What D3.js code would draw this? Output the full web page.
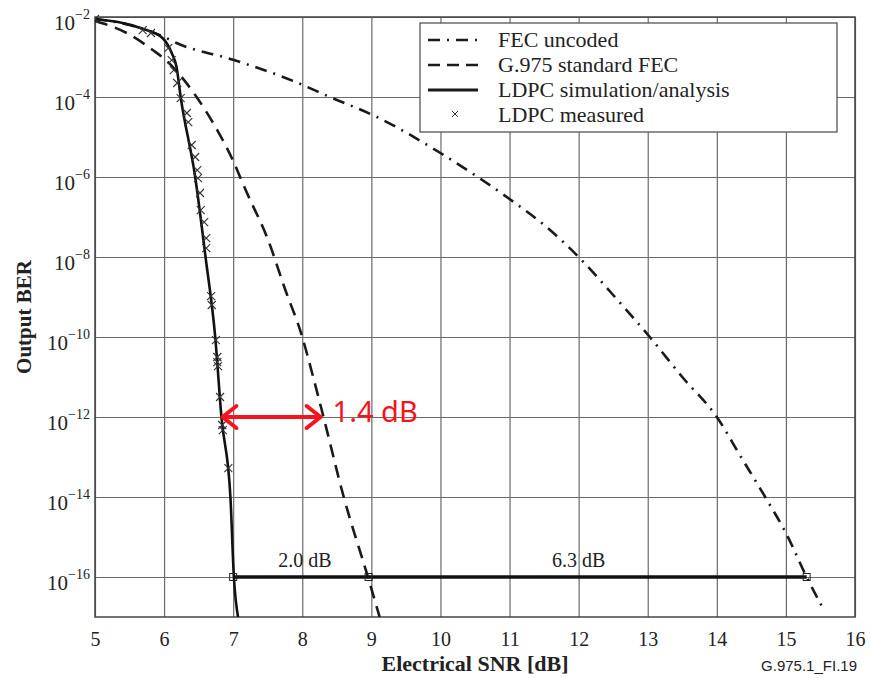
<!DOCTYPE html>
<html>
<head>
<meta charset="utf-8">
<script src="https://cdn.jsdelivr.net/npm/d3@7"></script>
<style>
  body { margin: 0; background: #fff; }
  svg { display: block; }
</style>
</head>
<body>
<div id="chart"></div>
<script>
// Data: SNR in dB, BER stored as log10 values
const uncodedSnr = [5.0, 5.5, 6.0, 6.18, 7.0, 7.87, 8.4, 9.08, 10.0, 10.54, 11.0, 11.5, 12.0, 12.5, 13.03, 13.5, 14.0, 14.35, 14.7, 15.0, 15.3, 15.54];
const uncodedLogBer = [-2.05, -2.2, -2.5, -2.65, -3.07, -3.6, -4.0, -4.5, -5.4, -6.0, -6.55, -7.2, -8.0, -8.95, -10.0, -11.0, -12.0, -13.0, -14.0, -14.9, -16.0, -16.8];

const g975Snr = [5.0, 5.46, 5.84, 6.04, 6.23, 6.47, 6.71, 7.0, 7.1, 7.2, 7.5, 7.75, 8.0, 8.15, 8.3, 8.6, 8.95, 9.12];
const g975LogBer = [-2.1, -2.4, -2.83, -3.1, -3.45, -4.0, -4.65, -5.6, -6.0, -6.4, -7.55, -8.8, -10.0, -10.95, -11.95, -14.0, -16.0, -17.0];

const ldpcSnr = [5.0, 5.7, 5.98, 6.11, 6.18, 6.24, 6.45, 6.6, 6.74, 6.83, 6.96, 7.01, 7.07];
const ldpcLogBer = [-2.05, -2.3, -2.53, -2.9, -3.25, -4.0, -6.0, -8.0, -10.0, -12.0, -14.0, -16.0, -17.0];

const measuredSnr = [5.0, 5.69, 5.81, 6.06, 6.11, 6.14, 6.19, 6.24, 6.33, 6.35, 6.4, 6.45, 6.48, 6.49, 6.52, 6.53, 6.58, 6.61, 6.61, 6.68, 6.69, 6.75, 6.77, 6.77, 6.78, 6.81, 6.84, 6.85, 6.93];
const measuredLogBer = [-2.05, -2.33, -2.4, -2.78, -3.08, -3.33, -3.65, -4.03, -4.4, -4.63, -5.2, -5.5, -5.83, -6.03, -6.4, -6.83, -7.13, -7.53, -7.78, -8.98, -9.2, -10.08, -10.5, -10.63, -10.73, -11.5, -12.2, -12.33, -13.28];

const xTicks = [5, 6, 7, 8, 9, 10, 11, 12, 13, 14, 15, 16];
const yTickExps = [-2, -4, -6, -8, -10, -12, -14, -16];

const legendLabels = ["FEC uncoded", "G.975 standard FEC", "LDPC simulation/analysis", "LDPC measured"];

// Coding gain bracket at BER 1e-16
const gainLevel = -16;
const gainMarksSnr = [7.0, 8.96, 15.3];
const gainLabels = ["2.0 dB", "6.3 dB"];
const gainLabelSnr = [8.04, 12.0];

// Red gap arrow at BER 1e-12
const gapLevel = -12;
const gapFrom = 6.83;
const gapTo = 8.28;
const gapLabel = "1.4 dB";

// Layout
const W = 870, H = 678;
const plotLeft = 95, plotRight = 855, plotTop = 17, plotBottom = 617;

const svg = d3.select("#chart").append("svg")
  .attr("width", W)
  .attr("height", H);

const x = d3.scaleLinear().domain([5, 16]).range([plotLeft, plotRight]);
const y = d3.scaleLog().domain([1e-17, 1e-2]).range([plotBottom, plotTop]);
const yl = v => y(Math.pow(10, v));

const serif = "'Liberation Serif', 'Times New Roman', serif";

// Vertical grid + x labels
const xAxis = svg.append("g")
  .attr("transform", "translate(0," + plotBottom + ")")
  .call(d3.axisBottom(x).tickValues(xTicks).tickSize(-(plotBottom - plotTop)).tickFormat(d3.format("d")));
xAxis.select(".domain").remove();
xAxis.selectAll("line").attr("stroke", "#6b6b6b").attr("stroke-width", 1.2);
xAxis.selectAll("text")
  .attr("y", 29)
  .attr("dy", null)
  .attr("font-family", serif)
  .attr("font-size", 20)
  .attr("fill", "#222");

// Horizontal grid + y labels with superscripts
const yAxis = svg.append("g")
  .attr("transform", "translate(" + plotLeft + ",0)")
  .call(d3.axisLeft(y).tickValues(yTickExps.map(e => Math.pow(10, e))).tickSize(-(plotRight - plotLeft)).tickFormat(""));
yAxis.select(".domain").remove();
yAxis.selectAll("line").attr("stroke", "#6b6b6b").attr("stroke-width", 1.2);
yAxis.selectAll(".tick").each(function(d) {
  const e = Math.round(Math.log10(d));
  const t = d3.select(this).select("text")
    .attr("x", -5)
    .attr("y", 12)
    .attr("dy", null)
    .attr("text-anchor", "end")
    .attr("font-family", serif)
    .attr("fill", "#222");
  t.append("tspan").attr("font-size", 21).text("10");
  t.append("tspan").attr("font-size", 14).attr("dy", -11).text("\u2212" + Math.abs(e));
});

// Plot frame
svg.append("rect")
  .attr("x", plotLeft).attr("y", plotTop)
  .attr("width", plotRight - plotLeft).attr("height", plotBottom - plotTop)
  .attr("fill", "none")
  .attr("stroke", "#444")
  .attr("stroke-width", 1.5);

// Curves
svg.append("clipPath").attr("id", "plotclip")
  .append("rect").attr("x", plotLeft).attr("y", plotTop - 4)
  .attr("width", plotRight - plotLeft).attr("height", plotBottom - plotTop + 4);

const line = d3.line()
  .x(d => x(d[0]))
  .y(d => yl(d[1]))
  .curve(d3.curveMonotoneX);

const plot = svg.append("g").attr("clip-path", "url(#plotclip)");

plot.append("path")
  .datum(d3.zip(uncodedSnr, uncodedLogBer))
  .attr("d", line)
  .attr("fill", "none")
  .attr("stroke", "#1a1a1a")
  .attr("stroke-width", 2.6)
  .attr("stroke-dasharray", "12,7,2,7");

plot.append("path")
  .datum(d3.zip(g975Snr, g975LogBer))
  .attr("d", line)
  .attr("fill", "none")
  .attr("stroke", "#1a1a1a")
  .attr("stroke-width", 2.6)
  .attr("stroke-dasharray", "13,8");

plot.append("path")
  .datum(d3.zip(ldpcSnr, ldpcLogBer))
  .attr("d", line)
  .attr("fill", "none")
  .attr("stroke", "#111")
  .attr("stroke-width", 2.6);

// Measured points as crosses
const cross = 4;
plot.selectAll(".meas")
  .data(d3.zip(measuredSnr, measuredLogBer))
  .enter().append("path")
  .attr("class", "meas")
  .attr("d", d => {
    const cx = x(d[0]), cy = yl(d[1]);
    return "M" + (cx - cross) + "," + (cy - cross) + "L" + (cx + cross) + "," + (cy + cross) +
           "M" + (cx - cross) + "," + (cy + cross) + "L" + (cx + cross) + "," + (cy - cross);
  })
  .attr("stroke", "#333")
  .attr("stroke-width", 1.1)
  .attr("fill", "none");

// Coding gain bracket
svg.append("line")
  .attr("x1", x(gainMarksSnr[0])).attr("x2", x(gainMarksSnr[gainMarksSnr.length - 1]))
  .attr("y1", yl(gainLevel)).attr("y2", yl(gainLevel))
  .attr("stroke", "#111")
  .attr("stroke-width", 3.5);

svg.selectAll(".gainmark")
  .data(gainMarksSnr)
  .enter().append("rect")
  .attr("class", "gainmark")
  .attr("x", d => x(d) - 3.5)
  .attr("y", yl(gainLevel) - 3.5)
  .attr("width", 7).attr("height", 7)
  .attr("fill", "none")
  .attr("stroke", "#222")
  .attr("stroke-width", 1);

svg.selectAll(".gainlabel")
  .data(gainLabels)
  .enter().append("text")
  .attr("class", "gainlabel")
  .attr("x", (d, i) => x(gainLabelSnr[i]))
  .attr("y", yl(gainLevel) - 10)
  .attr("text-anchor", "middle")
  .attr("font-family", serif)
  .attr("font-size", 20)
  .attr("fill", "#222")
  .text(d => d);

// Red gap arrow
const ay = yl(gapLevel);
const ax1 = x(gapFrom), ax2 = x(gapTo);
const red = svg.append("g")
  .attr("fill", "none")
  .attr("stroke", "#f5141e")
  .attr("stroke-width", 4)
  .attr("stroke-linecap", "round")
  .attr("stroke-linejoin", "round");
red.append("line").attr("x1", ax1 + 2).attr("x2", ax2 - 2).attr("y1", ay).attr("y2", ay);
red.append("path").attr("d", "M" + (ax1 + 15) + "," + (ay - 11) + "L" + (ax1 + 1) + "," + ay + "L" + (ax1 + 15) + "," + (ay + 11));
red.append("path").attr("d", "M" + (ax2 - 15) + "," + (ay - 11) + "L" + (ax2 - 1) + "," + ay + "L" + (ax2 - 15) + "," + (ay + 11));

svg.append("text")
  .attr("x", ax2 + 11)
  .attr("y", ay + 5)
  .attr("font-family", "'Noto Sans', sans-serif")
  .attr("font-size", 29)
  .attr("fill", "#f5141e")
  .text(gapLabel);

// Legend
const legend = svg.append("g");
legend.append("rect")
  .attr("x", 420).attr("y", 23)
  .attr("width", 417).attr("height", 109)
  .attr("fill", "#fff")
  .attr("stroke", "#555")
  .attr("stroke-width", 1.3);

const legendDash = ["12,7,2,7", "12,7", null, null];
legendLabels.forEach((label, i) => {
  const by = 47 + i * 25;
  if (i < 3) {
    legend.append("line")
      .attr("x1", 428).attr("x2", 478)
      .attr("y1", by - 7).attr("y2", by - 7)
      .attr("stroke", "#1a1a1a")
      .attr("stroke-width", i === 2 ? 3 : 2.6)
      .attr("stroke-dasharray", legendDash[i]);
  } else {
    const cx = 455, cy = by - 8, s = 3;
    legend.append("path")
      .attr("d", "M" + (cx - s) + "," + (cy - s) + "L" + (cx + s) + "," + (cy + s) +
                 "M" + (cx - s) + "," + (cy + s) + "L" + (cx + s) + "," + (cy - s))
      .attr("stroke", "#333")
      .attr("stroke-width", 1);
  }
  legend.append("text")
    .attr("x", 498).attr("y", by)
    .attr("font-family", serif)
    .attr("font-size", 22)
    .attr("fill", "#222")
    .text(label);
});

// Axis titles
svg.append("text")
  .attr("x", (plotLeft + plotRight) / 2)
  .attr("y", 671)
  .attr("text-anchor", "middle")
  .attr("font-family", serif)
  .attr("font-weight", "bold")
  .attr("font-size", 22)
  .attr("fill", "#222")
  .text("Electrical SNR [dB]");

svg.append("text")
  .attr("transform", "translate(31," + ((plotTop + plotBottom) / 2) + ") rotate(-90)")
  .attr("text-anchor", "middle")
  .attr("font-family", serif)
  .attr("font-weight", "bold")
  .attr("font-size", 21)
  .attr("fill", "#222")
  .text("Output BER");

// Figure id
svg.append("text")
  .attr("x", 857)
  .attr("y", 671)
  .attr("text-anchor", "end")
  .attr("font-family", "'Liberation Sans', Arial, sans-serif")
  .attr("font-size", 15)
  .attr("fill", "#222")
  .text("G.975.1_FI.19");
</script>
</body>
</html>
